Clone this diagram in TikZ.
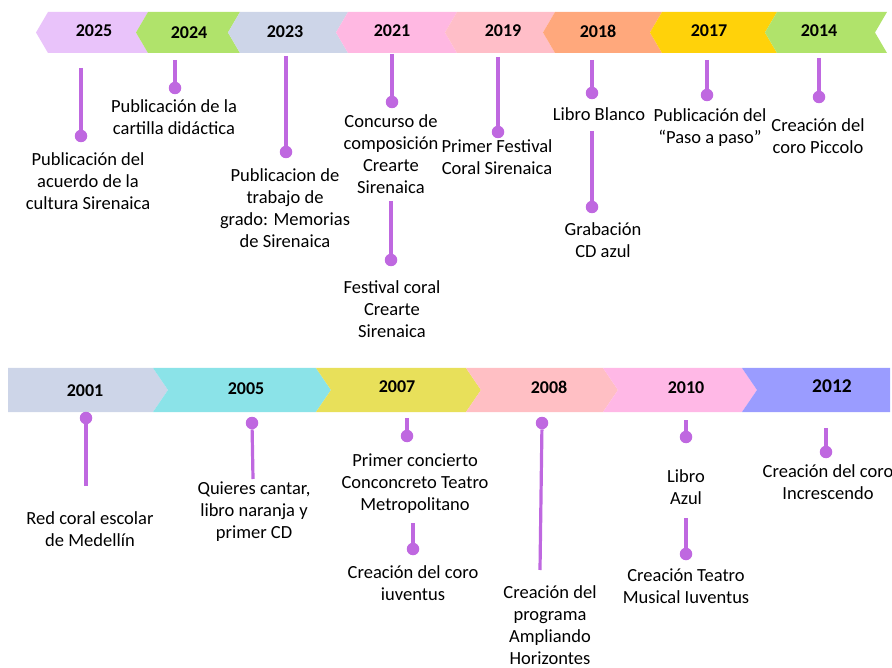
\documentclass[tikz,border=0pt]{standalone}
\usepackage{fontspec}
\setmainfont{Carlito}
\usetikzlibrary{positioning}

\definecolor{stemcol}{HTML}{BF68E0}
\definecolor{c2025}{HTML}{E9C3FA}
\definecolor{c2024}{HTML}{B0E36B}
\definecolor{c2023}{HTML}{CDD5E8}
\definecolor{c2021}{HTML}{FFB8E2}
\definecolor{c2019}{HTML}{FFBEC8}
\definecolor{c2018}{HTML}{FFA87C}
\definecolor{c2017}{HTML}{FFD20A}
\definecolor{c2014}{HTML}{B0E36B}
\definecolor{c2001}{HTML}{CDD5E8}
\definecolor{c2005}{HTML}{8BE3E8}
\definecolor{c2007}{HTML}{E8E05A}
\definecolor{c2008}{HTML}{FFBFC4}
\definecolor{c2010}{HTML}{FFB8E6}
\definecolor{c2012}{HTML}{9A9CFF}

\begin{document}
\begin{tikzpicture}[
    x=1pt, y=-1pt,
    year/.style={
      inner sep=0pt, font=\fontsize{18}{22}\selectfont\bfseries
    },
    event/.style={
      align=center, inner sep=0pt, font=\fontsize{18.5}{22}\selectfont
    },
    dot/.style={
      circle, fill=stemcol, minimum size=12.5pt, inner sep=0pt
    },
    stem/.style={
      draw=stemcol, line width=3.2pt
    },
  ]
    \clip (0,0) rectangle (892,668);

    % upper band
    \fill[c2025] (36,32.5) -- (48,12) -- (148,12) -- (136,32.5) -- (148,53) -- (48,53) -- cycle;
    \fill[c2024] (136,32.5) -- (148,12) -- (240,12) -- (228,32.5) -- (240,53) -- (148,53) -- cycle;
    \fill[c2023] (228,32.5) -- (240,12) -- (348,12) -- (336,32.5) -- (348,53) -- (240,53) -- cycle;
    \fill[c2021] (336,32.5) -- (348,12) -- (457,12) -- (445,32.5) -- (457,53) -- (348,53) -- cycle;
    \fill[c2019] (445,32.5) -- (457,12) -- (555,12) -- (543,32.5) -- (555,53) -- (457,53) -- cycle;
    \fill[c2018] (543,32.5) -- (555,12) -- (662,12) -- (650,32.5) -- (662,53) -- (555,53) -- cycle;
    \fill[c2017] (650,32.5) -- (662,12) -- (777,12) -- (765,32.5) -- (777,53) -- (662,53) -- cycle;
    \fill[c2014] (765,32.5) -- (777,12) -- (887,12) -- (875,32.5) -- (887,53) -- (777,53) -- cycle;

    \node [year] (y2025) at (94,31) {2025};
    \node [year] (y2024) at (189,33) {2024};
    \node [year] (y2023) at (285,32) {2023};
    \node [year] (y2021) at (392,31) {2021};
    \node [year] (y2019) at (503,31) {2019};
    \node [year] (y2018) at (598,31) {2018};
    \node [year] (y2017) at (709,31) {2017};
    \node [year] (y2014) at (819,31) {2014};

    % lower band
    \fill[c2001] (8,368) -- (153,368) -- (168,390) -- (153,412) -- (8,412) -- cycle;
    \fill[c2005] (153,368) -- (316,368) -- (331,390) -- (316,412) -- (153,412) -- (168,390) -- cycle;
    \fill[c2007] (316,368) -- (466,368) -- (481,390) -- (466,412) -- (316,412) -- (331,390) -- cycle;
    \fill[c2008] (466,368) -- (603,368) -- (618,390) -- (603,412) -- (466,412) -- (481,390) -- cycle;
    \fill[c2010] (603,368) -- (742,368) -- (757,390) -- (742,412) -- (603,412) -- (618,390) -- cycle;
    \fill[c2012] (742,368) -- (890,368) -- (890,412) -- (742,412) -- (757,390) -- cycle;

    \node [year] (y2001) at (85,391) {2001};
    \node [year] (y2005) at (246,389) {2005};
    \node [year] (y2007) at (397,387) {2007};
    \node [year] (y2008) at (549,387) {2008};
    \node [year] (y2010) at (686,388) {2010};
    \node [year, font=\fontsize{19.5}{22}\selectfont\bfseries] (y2012) at (832,386) {2012};

    % stems and dots, upper band
    \coordinate (s2025) at (81,68);
    \node [dot] (d2025) at (81,136) {};
    \coordinate (s2024) at (175,60);
    \node [dot] (d2024) at (175,88) {};
    \coordinate (s2023) at (286,56);
    \node [dot] (d2023) at (286,152) {};
    \coordinate (s2021) at (392,54);
    \node [dot] (d2021) at (392,102) {};
    \coordinate (s2021b) at (391,201);
    \node [dot] (d2021b) at (391,260) {};
    \coordinate (s2019) at (498,57);
    \node [dot] (d2019) at (498,132) {};
    \coordinate (s2018) at (592,60);
    \node [dot] (d2018) at (592,93) {};
    \coordinate (s2018b) at (592,131);
    \node [dot] (d2018b) at (592,207) {};
    \coordinate (s2017) at (707,60);
    \node [dot] (d2017) at (707,95) {};
    \coordinate (s2014) at (819,58);
    \node [dot] (d2014) at (819,97) {};

    \draw [stem] (s2025) -- (d2025);
    \draw [stem] (s2024) -- (d2024);
    \draw [stem] (s2023) -- (d2023);
    \draw [stem] (s2021) -- (d2021);
    \draw [stem] (s2021b) -- (d2021b);
    \draw [stem] (s2019) -- (d2019);
    \draw [stem] (s2018) -- (d2018);
    \draw [stem] (s2018b) -- (d2018b);
    \draw [stem] (s2017) -- (d2017);
    \draw [stem] (s2014) -- (d2014);

    % events, upper band
    \node [event, below=10.5pt of d2025, xshift=7pt] (e2025) {Publicación del\\acuerdo de la\\cultura Sirenaica};
    \node [event, below=5.5pt of d2024, xshift=-1pt] (e2024) {Publicación de la\\cartilla didáctica};
    \node [event, below=10.5pt of d2023, xshift=-1pt] (e2023) {Publicacion de\\trabajo de\\grado: Memorias\\de Sirenaica};
    \node [event, below=6.5pt of d2021, xshift=-1pt] (e2021) {Concurso de\\composición\\Crearte\\Sirenaica};
    \node [event, below=14.5pt of d2021b, xshift=1pt] (e2021b) {Festival coral\\Crearte\\Sirenaica};
    \node [event, below=1.5pt of d2019, xshift=-1pt] (e2019) {Primer Festival\\Coral Sirenaica};
    \node [event, below=8.5pt of d2018, xshift=7pt] (e2018) {Libro Blanco};
    \node [event, below=9.5pt of d2018b, xshift=11pt] (e2018b) {Grabación\\CD azul};
    \node [event, below=7.5pt of d2017, xshift=3pt] (e2017) {Publicación del\\“Paso a paso”};
    \node [event, below=15.5pt of d2014, xshift=-1pt] (e2014) {Creación del\\coro Piccolo};

    % stems and dots, lower band
    \node [dot] (d2001) at (86,418) {};
    \coordinate (s2001) at (86,486);
    \node [dot] (d2005) at (252,423) {};
    \coordinate (s2005) at (253,479);
    \coordinate (s2007) at (407,418);
    \node [dot] (d2007) at (407,436) {};
    \coordinate (s2007b) at (413,523);
    \node [dot] (d2007b) at (413,549) {};
    \node [dot] (d2008) at (542,423) {};
    \coordinate (s2008) at (540,570);
    \coordinate (s2010) at (686,420);
    \node [dot] (d2010) at (686,437) {};
    \coordinate (s2010b) at (686,518);
    \node [dot] (d2010b) at (686,554) {};
    \coordinate (s2012) at (826,428);
    \node [dot] (d2012) at (826,452) {};

    \draw [stem] (d2001) -- (s2001);
    \draw [stem] (d2005) -- (s2005);
    \draw [stem] (s2007) -- (d2007);
    \draw [stem] (s2007b) -- (d2007b);
    \draw [stem] (d2008) -- (s2008);
    \draw [stem] (s2010) -- (d2010);
    \draw [stem] (s2010b) -- (d2010b);
    \draw [stem] (s2012) -- (d2012);

    % events, lower band
    \node [event, below=25pt of s2001, xshift=4pt] (e2001) {Red coral escolar\\de Medellín};
    \node [event, below=3pt of s2005, xshift=1pt] (e2005) {Quieres cantar,\\libro naranja y\\primer CD};
    \node [event, below=11.5pt of d2007, xshift=8pt] (e2007) {Primer concierto\\Conconcreto Teatro\\Metropolitano};
    \node [event, below=10.5pt of d2007b] (e2007b) {Creación del coro\\iuventus};
    \node [event, below=15pt of s2008, xshift=10pt] (e2008) {Creación del\\programa\\Ampliando\\Horizontes};
    \node [event, below=26.5pt of d2010] (e2010) {Libro\\Azul};
    \node [event, below=8.5pt of d2010b] (e2010b) {Creación Teatro\\Musical Iuventus};
    \node [event, below=6.5pt of d2012, xshift=2pt] (e2012) {Creación del coro\\Increscendo};

  \end{tikzpicture}
\end{document}
